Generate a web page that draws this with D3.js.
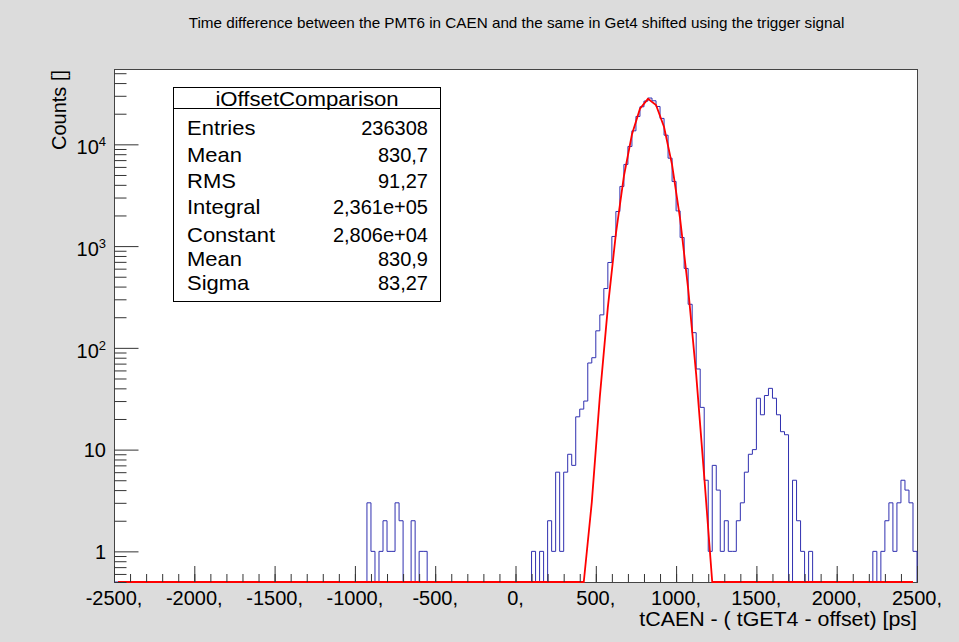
<!DOCTYPE html>
<html lang="en">
<head>
<meta charset="UTF-8">
<title>iOffsetComparison</title>
<style>
  body { margin: 0; background: #dcdcdc; }
  svg { display: block; font-family: "Liberation Sans", Arial, Helvetica, sans-serif; }
</style>
</head>
<body>
<svg id="chart" width="959" height="642"></svg>
<script src="https://cdn.jsdelivr.net/npm/d3@7/dist/d3.min.js"></script>
<script>
// histogram: 200 bins of 25 ps, from -2500 to 2500 ps
const binLow = -2500;
const binWidth = 25;
const counts = [
  0,0,0,0,0,0,0,0,0,0, 0,0,0,0,0,0,0,0,0,0,            // -2500 .. -2000
  0,0,0,0,0,0,0,0,0,0, 0,0,0,0,0,0,0,0,0,0,            // -2000 .. -1500
  0,0,0,0,0,0,0,0,0,0, 0,0,0,0,0,0,0,0,0,0,            // -1500 .. -1000
  0,0,0,3,1,0,1,2,1,1, 3,2,0,0,2,0,1,1,0,0,            // -1000 .. -500
  0,0,0,0,0,0,0,0,0,0, 0,0,0,0,0,0,0,0,0,0,            // -500 .. 0
  0,0,0,0,1,0,1,0,2,1, 6,1,6,9,7,21,25,30,71,80,       // 0 .. 500
  147,211,383,690,1243,2188,3855,6345,9530,13580,
  18800,23400,26600,28500,26800,23560,17980,12300,7310,4315, // 500 .. 1000
  2218,1215,603,268,141,62,26,5,1,7, 4,1,2,1,1,2,3,6,9,10,   // 1000 .. 1500
  32,22,34,40,32,22,15,14,0,5, 2,1,0,1,0,0,0,0,0,0,    // 1500 .. 2000
  0,0,0,0,0,0,0,0,0,1, 0,1,2,3,1,3,5,4,3,1             // 2000 .. 2500
];

// gaussian fit
const fitConstant = 2.806e4;
const fitMean = 830.9;
const fitSigma = 83.27;
const fitRange = [-2475, 2475];

const statLabels = ["Entries", "Mean", "RMS", "Integral", "Constant", "Mean", "Sigma"];
const statValues = ["236308", "830,7", "91,27", "2,361e+05", "2,806e+04", "830,9", "83,27"];

const xTicks = [-2500, -2000, -1500, -1000, -500, 0, 500, 1000, 1500, 2000, 2500];
const xTickLabels = ["-2500,", "-2000,", "-1500,", "-1000,", "-500,", "0,", "500,", "1000,", "1500,", "2000,", "2500,"];
const yTicks = [1, 10, 100, 1000, 10000];
const yTickBase = ["1", "10", "10", "10", "10"];
const yTickExp = ["", "", "2", "3", "4"];

const title = "Time difference between the PMT6 in CAEN and the same in Get4 shifted using the trigger signal";
const xTitle = "tCAEN - ( tGET4 - offset) [ps]";
const yTitle = "Counts []";
const statTitle = "iOffsetComparison";

const svg = d3.select('#chart');
const fL = 114, fR = 917, fT = 69, fB = 582;

const x = d3.scaleLinear().domain([-2500, 2500]).range([fL, fR]);
const y = d3.scaleLog().domain([0.5, 55000]).range([fB, fT]);

svg.append('rect').attr('width', 959).attr('height', 642).attr('fill', '#dcdcdc');
svg.append('rect')
  .attr('x', fL + 0.5).attr('y', fT + 0.5)
  .attr('width', fR - fL).attr('height', fB - fT)
  .attr('fill', '#fff').attr('stroke', '#444').attr('stroke-width', 1);

svg.append('defs').append('clipPath').attr('id', 'frame')
  .append('rect').attr('x', fL).attr('y', fT).attr('width', fR - fL + 1).attr('height', fB - fT + 1.5);

// histogram outline
const steps = [[x(binLow), fB]];
counts.forEach((c, i) => {
  const lo = binLow + i * binWidth;
  const yy = c > 0 ? y(c) : fB;
  steps.push([x(lo), yy], [x(lo + binWidth), yy]);
});
steps.push([x(binLow + counts.length * binWidth), fB]);

svg.append('path')
  .attr('clip-path', 'url(#frame)')
  .attr('d', d3.line()(steps))
  .attr('fill', 'none')
  .attr('stroke', '#3030b0')
  .attr('stroke-width', 1);

// fit curve, 99 segments, clipped at the bottom of the log axis
const fitPts = d3.range(0, 100).map(k => {
  const xv = fitRange[0] + k * (fitRange[1] - fitRange[0]) / 99;
  const g = fitConstant * Math.exp(-0.5 * Math.pow((xv - fitMean) / fitSigma, 2));
  return [x(xv), y(Math.max(g, 0.5))];
});
svg.append('path')
  .attr('clip-path', 'url(#frame)')
  .attr('d', d3.line()(fitPts))
  .attr('fill', 'none')
  .attr('stroke', '#ff0000')
  .attr('stroke-width', 1.8);

// y axis ticks (inside frame)
const yMinor = y.ticks().filter(v => !yTicks.includes(v));
svg.append('g').attr('transform', `translate(${fL + 0.5},0)`)
  .call(d3.axisRight(y).tickValues(yMinor).tickSize(12).tickFormat(''))
  .call(g => g.select('.domain').remove());
svg.append('g').attr('transform', `translate(${fL + 0.5},0)`)
  .call(d3.axisRight(y).tickValues(yTicks).tickSize(24).tickFormat(''))
  .call(g => g.select('.domain').remove());

// x axis ticks (inside frame)
svg.append('g').attr('transform', `translate(0,${fB})`)
  .call(d3.axisTop(x).tickValues(d3.range(-2500, 2501, 100)).tickSize(8).tickFormat(''))
  .call(g => g.select('.domain').remove());
svg.append('g').attr('transform', `translate(0,${fB})`)
  .call(d3.axisTop(x).tickValues(xTicks).tickSize(16).tickFormat(''))
  .call(g => g.select('.domain').remove());
svg.selectAll('.tick line').attr('stroke', '#333');

// x labels
svg.append('g').selectAll('text').data(xTicks).join('text')
  .attr('x', d => x(d)).attr('y', 605)
  .attr('text-anchor', 'middle').attr('font-size', 20)
  .text((d, i) => xTickLabels[i]);

// y labels
const yl = svg.append('g').selectAll('text').data(yTicks).join('text')
  .attr('x', 106).attr('y', (d, i) => y(d) + (yTickExp[i] ? 10 : 7.5))
  .attr('text-anchor', 'end').attr('font-size', 20);
yl.append('tspan').text((d, i) => yTickBase[i]);
yl.append('tspan').attr('font-size', 13).attr('dy', -8).text((d, i) => yTickExp[i]);

// text in the reference is a little stretched sideways
function stretched(g, px, py, sx) {
  return g.append('g').attr('transform', `translate(${px},${py}) scale(${sx},1)`).append('text');
}

// titles
stretched(svg, 516.5, 28, 1.09).attr('text-anchor', 'middle')
  .attr('font-size', 14).text(title);
stretched(svg, fR, 626, 1.07).attr('text-anchor', 'end')
  .attr('font-size', 20).text(xTitle);
svg.append('text').attr('transform', 'translate(66,70) rotate(-90)')
  .attr('text-anchor', 'end').attr('font-size', 20).text(yTitle);

// stats box
const box = svg.append('g');
box.append('rect').attr('x', 173.5).attr('y', 87.5).attr('width', 267).attr('height', 214)
  .attr('fill', '#fff').attr('stroke', '#000');
box.append('line').attr('x1', 173.5).attr('x2', 440.5).attr('y1', 108.5).attr('y2', 108.5)
  .attr('stroke', '#000');
stretched(box, 307, 106, 1.11).attr('text-anchor', 'middle')
  .attr('font-size', 20).text(statTitle);
const rowY = [135, 162, 188, 214, 242, 266, 290];
statLabels.forEach((d, i) => {
  stretched(box, 187, rowY[i], 1.1).attr('font-size', 20).text(d);
  stretched(box, 428, rowY[i], 1.0).attr('text-anchor', 'end').attr('font-size', 20).text(statValues[i]);
});
</script>
</body>
</html>
